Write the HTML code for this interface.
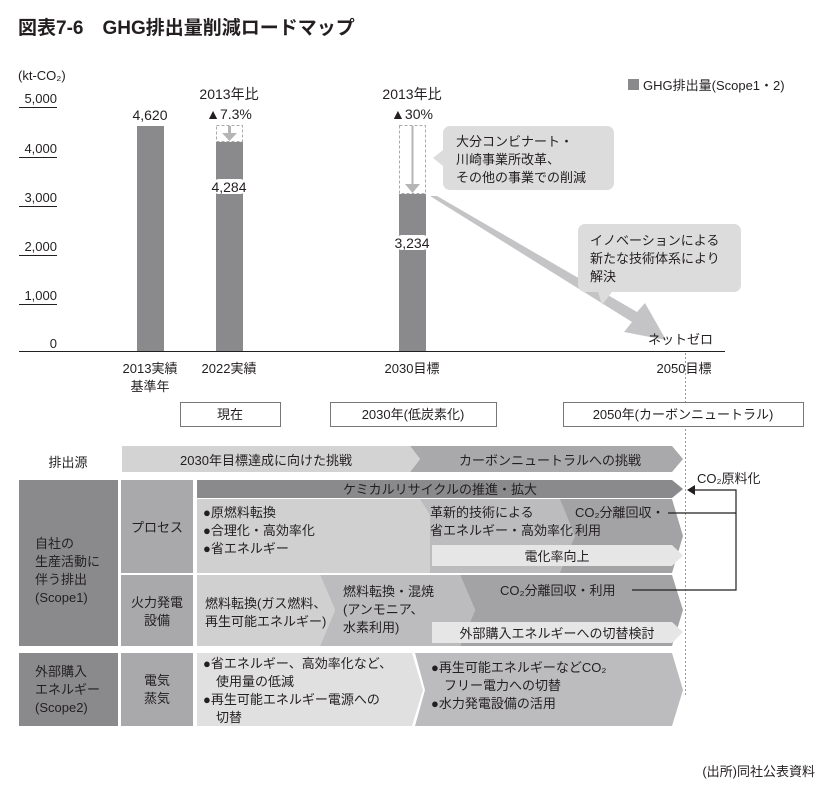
<!DOCTYPE html>
<html><head><meta charset="utf-8"><style>
html,body{margin:0;padding:0;background:#fff}
svg{display:block}
text{font-family:"Liberation Sans","Noto Sans CJK JP",sans-serif;fill:#231f20}
</style></head><body>
<svg width="832" height="790" viewBox="0 0 832 790" xmlns="http://www.w3.org/2000/svg">
<text x="18" y="34" font-size="19" font-weight="bold">図表7-6　GHG排出量削減ロードマップ</text>
<text x="18" y="80" font-size="13">(kt-CO₂)</text>
<g font-size="13" text-anchor="end">
<text x="57" y="103">5,000</text><text x="57" y="153">4,000</text><text x="57" y="202">3,000</text>
<text x="57" y="251">2,000</text><text x="57" y="300">1,000</text><text x="57" y="348">0</text>
</g>
<g stroke="#231f20" stroke-width="1">
<line x1="19" y1="107.5" x2="57" y2="107.5"/><line x1="19" y1="157.5" x2="57" y2="157.5"/>
<line x1="19" y1="206.5" x2="57" y2="206.5"/><line x1="19" y1="255.5" x2="57" y2="255.5"/>
<line x1="19" y1="304.5" x2="57" y2="304.5"/>
</g>
<rect x="628" y="79" width="11" height="11" fill="#8a8a8d"/>
<text x="643" y="90" font-size="13">GHG排出量(Scope1・2)</text>
<!-- big arrow -->
<polygon points="430,196 437,196 637,312 645,303 666,340 624,332 632,322" fill="#c4c4c6"/>
<!-- bars -->
<rect x="137" y="126" width="27" height="225" fill="#8a8a8d"/>
<text x="150" y="120" font-size="14" text-anchor="middle">4,620</text>
<rect x="216" y="142" width="27" height="209" fill="#8a8a8d"/>
<rect x="216.5" y="125.5" width="26" height="16" fill="none" stroke="#aaa" stroke-dasharray="3,2"/>
<line x1="229.5" y1="126" x2="229.5" y2="134" stroke="#b5b5b5" stroke-width="3"/>
<polygon points="222,133 237,133 229.5,141" fill="#b5b5b5"/>
<text x="229" y="99" font-size="14" text-anchor="middle">2013年比</text>
<text x="229" y="119" font-size="14" text-anchor="middle">▲7.3%</text>
<rect x="213" y="179" width="33" height="15" rx="6" fill="#fff"/>
<text x="229" y="192" font-size="14" text-anchor="middle">4,284</text>
<rect x="399" y="194" width="27" height="157" fill="#8a8a8d"/>
<rect x="399.5" y="125.5" width="26" height="68" fill="none" stroke="#aaa" stroke-dasharray="3,2"/>
<line x1="412.5" y1="126" x2="412.5" y2="184" stroke="#b5b5b5" stroke-width="2"/>
<polygon points="405,184 420,184 412.5,193" fill="#b5b5b5"/>
<text x="412" y="99" font-size="14" text-anchor="middle">2013年比</text>
<text x="412" y="119" font-size="14" text-anchor="middle">▲30%</text>
<rect x="396" y="235" width="33" height="15" rx="6" fill="#fff"/>
<text x="412" y="248" font-size="14" text-anchor="middle">3,234</text>
<!-- callouts -->
<rect x="443" y="126" width="171" height="64" rx="7" fill="#dcdcdd"/>
<polygon points="443,150 433,158 443,166" fill="#dcdcdd"/>
<text x="456" y="146" font-size="13">大分コンビナート・</text>
<text x="456" y="164" font-size="13">川崎事業所改革、</text>
<text x="456" y="182" font-size="13">その他の事業での削減</text>
<rect x="578" y="224" width="163" height="68" rx="7" fill="#dcdcdd"/>
<polygon points="598,292 612,292 602,305" fill="#dcdcdd"/>
<text x="590" y="245" font-size="13">イノベーションによる</text>
<text x="590" y="263" font-size="13">新たな技術体系により</text>
<text x="590" y="281" font-size="13">解決</text>
<text x="648" y="344" font-size="13">ネットゼロ</text>
<!-- axis -->
<line x1="19" y1="351.5" x2="725" y2="351.5" stroke="#231f20" stroke-width="1"/>
<line x1="685.5" y1="353" x2="685.5" y2="695" stroke="#999" stroke-dasharray="2,2"/>
<g font-size="13" text-anchor="middle">
<text x="150" y="373">2013実績</text><text x="150" y="391">基準年</text>
<text x="229" y="373">2022実績</text><text x="412" y="373">2030目標</text><text x="684" y="373">2050目標</text>
</g>
<g fill="#fff" stroke="#777" stroke-width="1">
<rect x="180.5" y="402.5" width="100" height="24"/><rect x="330.5" y="402.5" width="166" height="24"/><rect x="563.5" y="402.5" width="240" height="24"/>
</g>
<g font-size="13" text-anchor="middle">
<text x="230" y="419">現在</text><text x="413" y="419">2030年(低炭素化)</text><text x="683" y="419">2050年(カーボンニュートラル)</text>
</g>
<!-- table header -->
<text x="68" y="467" font-size="13" text-anchor="middle">排出源</text>
<polygon points="410,446 672,446 683,459 672,472 410,472 420,459" fill="#a9a9ab"/>
<polygon points="122,446 410,446 420,459 410,472 122,472" fill="#d3d3d4"/>
<text x="266" y="465" font-size="13" text-anchor="middle">2030年目標達成に向けた挑戦</text>
<text x="550" y="465" font-size="13" text-anchor="middle">カーボンニュートラルへの挑戦</text>
<!-- left columns -->
<rect x="19" y="480" width="99" height="166" fill="#8a8a8d"/>
<rect x="121" y="480" width="72" height="93" fill="#a9a9ab"/>
<rect x="121" y="575" width="72" height="71" fill="#a9a9ab"/>
<rect x="19" y="653" width="99" height="73" fill="#8a8a8d"/>
<rect x="121" y="653" width="72" height="73" fill="#a9a9ab"/>
<g font-size="13">
<text x="35" y="548">自社の</text><text x="35" y="566">生産活動に</text><text x="35" y="584">伴う排出</text><text x="35" y="602">(Scope1)</text>
<text x="35" y="676">外部購入</text><text x="35" y="694">エネルギー</text><text x="35" y="712">(Scope2)</text>
</g>
<g font-size="13" text-anchor="middle">
<text x="157" y="532">プロセス</text><text x="157" y="607">火力発電</text><text x="157" y="625">設備</text>
<text x="157" y="685">電気</text><text x="157" y="703">蒸気</text>
</g>
<!-- process row -->
<polygon points="560,499 672,499 683,536 672,573 560,573" fill="#a3a3a5"/>
<polygon points="420,499 560,499 575,536 560,573 420,573" fill="#bcbcbe"/>
<polygon points="197,499 410,499 420,499 430,515 430,573 197,573" fill="#d0d0d1"/>
<polygon points="197,480 672,480 683,489 672,498 197,498" fill="#8a8a8d"/>
<text x="440" y="494" font-size="13" text-anchor="middle">ケミカルリサイクルの推進・拡大</text>
<polygon points="432,545 672,545 683,555.5 672,566 432,566" fill="#e6e6e7"/>
<text x="557" y="561" font-size="13" text-anchor="middle">電化率向上</text>
<g font-size="13">
<text x="203" y="517">●原燃料転換</text><text x="203" y="535">●合理化・高効率化</text><text x="203" y="553">●省エネルギー</text>
<text x="430" y="517">革新的技術による</text><text x="430" y="535">省エネルギー・高効率化</text>
<text x="575" y="517">CO₂分離回収・</text><text x="575" y="535">利用</text>
</g>
<!-- fire row -->
<polygon points="460,575 672,575 683,610 672,646 460,646 475,610" fill="#a3a3a5"/>
<polygon points="320,575 460,575 475,610 460,646 320,646 335,610" fill="#bcbcbe"/>
<polygon points="197,575 320,575 335,610 320,646 197,646" fill="#d0d0d1"/>
<polygon points="432,622 672,622 683,632 672,643 432,643" fill="#e6e6e7"/>
<text x="557" y="638" font-size="13" text-anchor="middle">外部購入エネルギーへの切替検討</text>
<g font-size="13">
<text x="205" y="608">燃料転換(ガス燃料、</text><text x="205" y="626">再生可能エネルギー)</text>
<text x="343" y="596">燃料転換・混焼</text><text x="343" y="614">(アンモニア、</text><text x="343" y="632">水素利用)</text>
<text x="500" y="595">CO₂分離回収・利用</text>
</g>
<!-- scope2 row -->
<polygon points="415,653 672,653 683,690 672,726 415,726 425,690" fill="#bcbcbe"/>
<polygon points="197,653 412,653 423,690 412,726 197,726" fill="#e0e0e1"/>
<g font-size="13">
<text x="203" y="668">●省エネルギー、高効率化など、</text><text x="203" y="686">　使用量の低減</text>
<text x="203" y="704">●再生可能エネルギー電源への</text><text x="203" y="722">　切替</text>
<text x="431" y="672">●再生可能エネルギーなどCO₂</text><text x="431" y="690">　フリー電力への切替</text>
<text x="431" y="708">●水力発電設備の活用</text>
</g>
<!-- connectors -->
<text x="697" y="483" font-size="13">CO₂原料化</text>
<polyline points="694,490 736,490 736,590 632,590" fill="none" stroke="#231f20" stroke-width="1.2"/>
<line x1="668" y1="513" x2="736" y2="513" stroke="#231f20" stroke-width="1.2"/>
<polygon points="687,490 695,485 695,495" fill="#231f20"/>
<text x="815" y="776" font-size="13" text-anchor="end">(出所)同社公表資料</text>
</svg>
</body></html>
